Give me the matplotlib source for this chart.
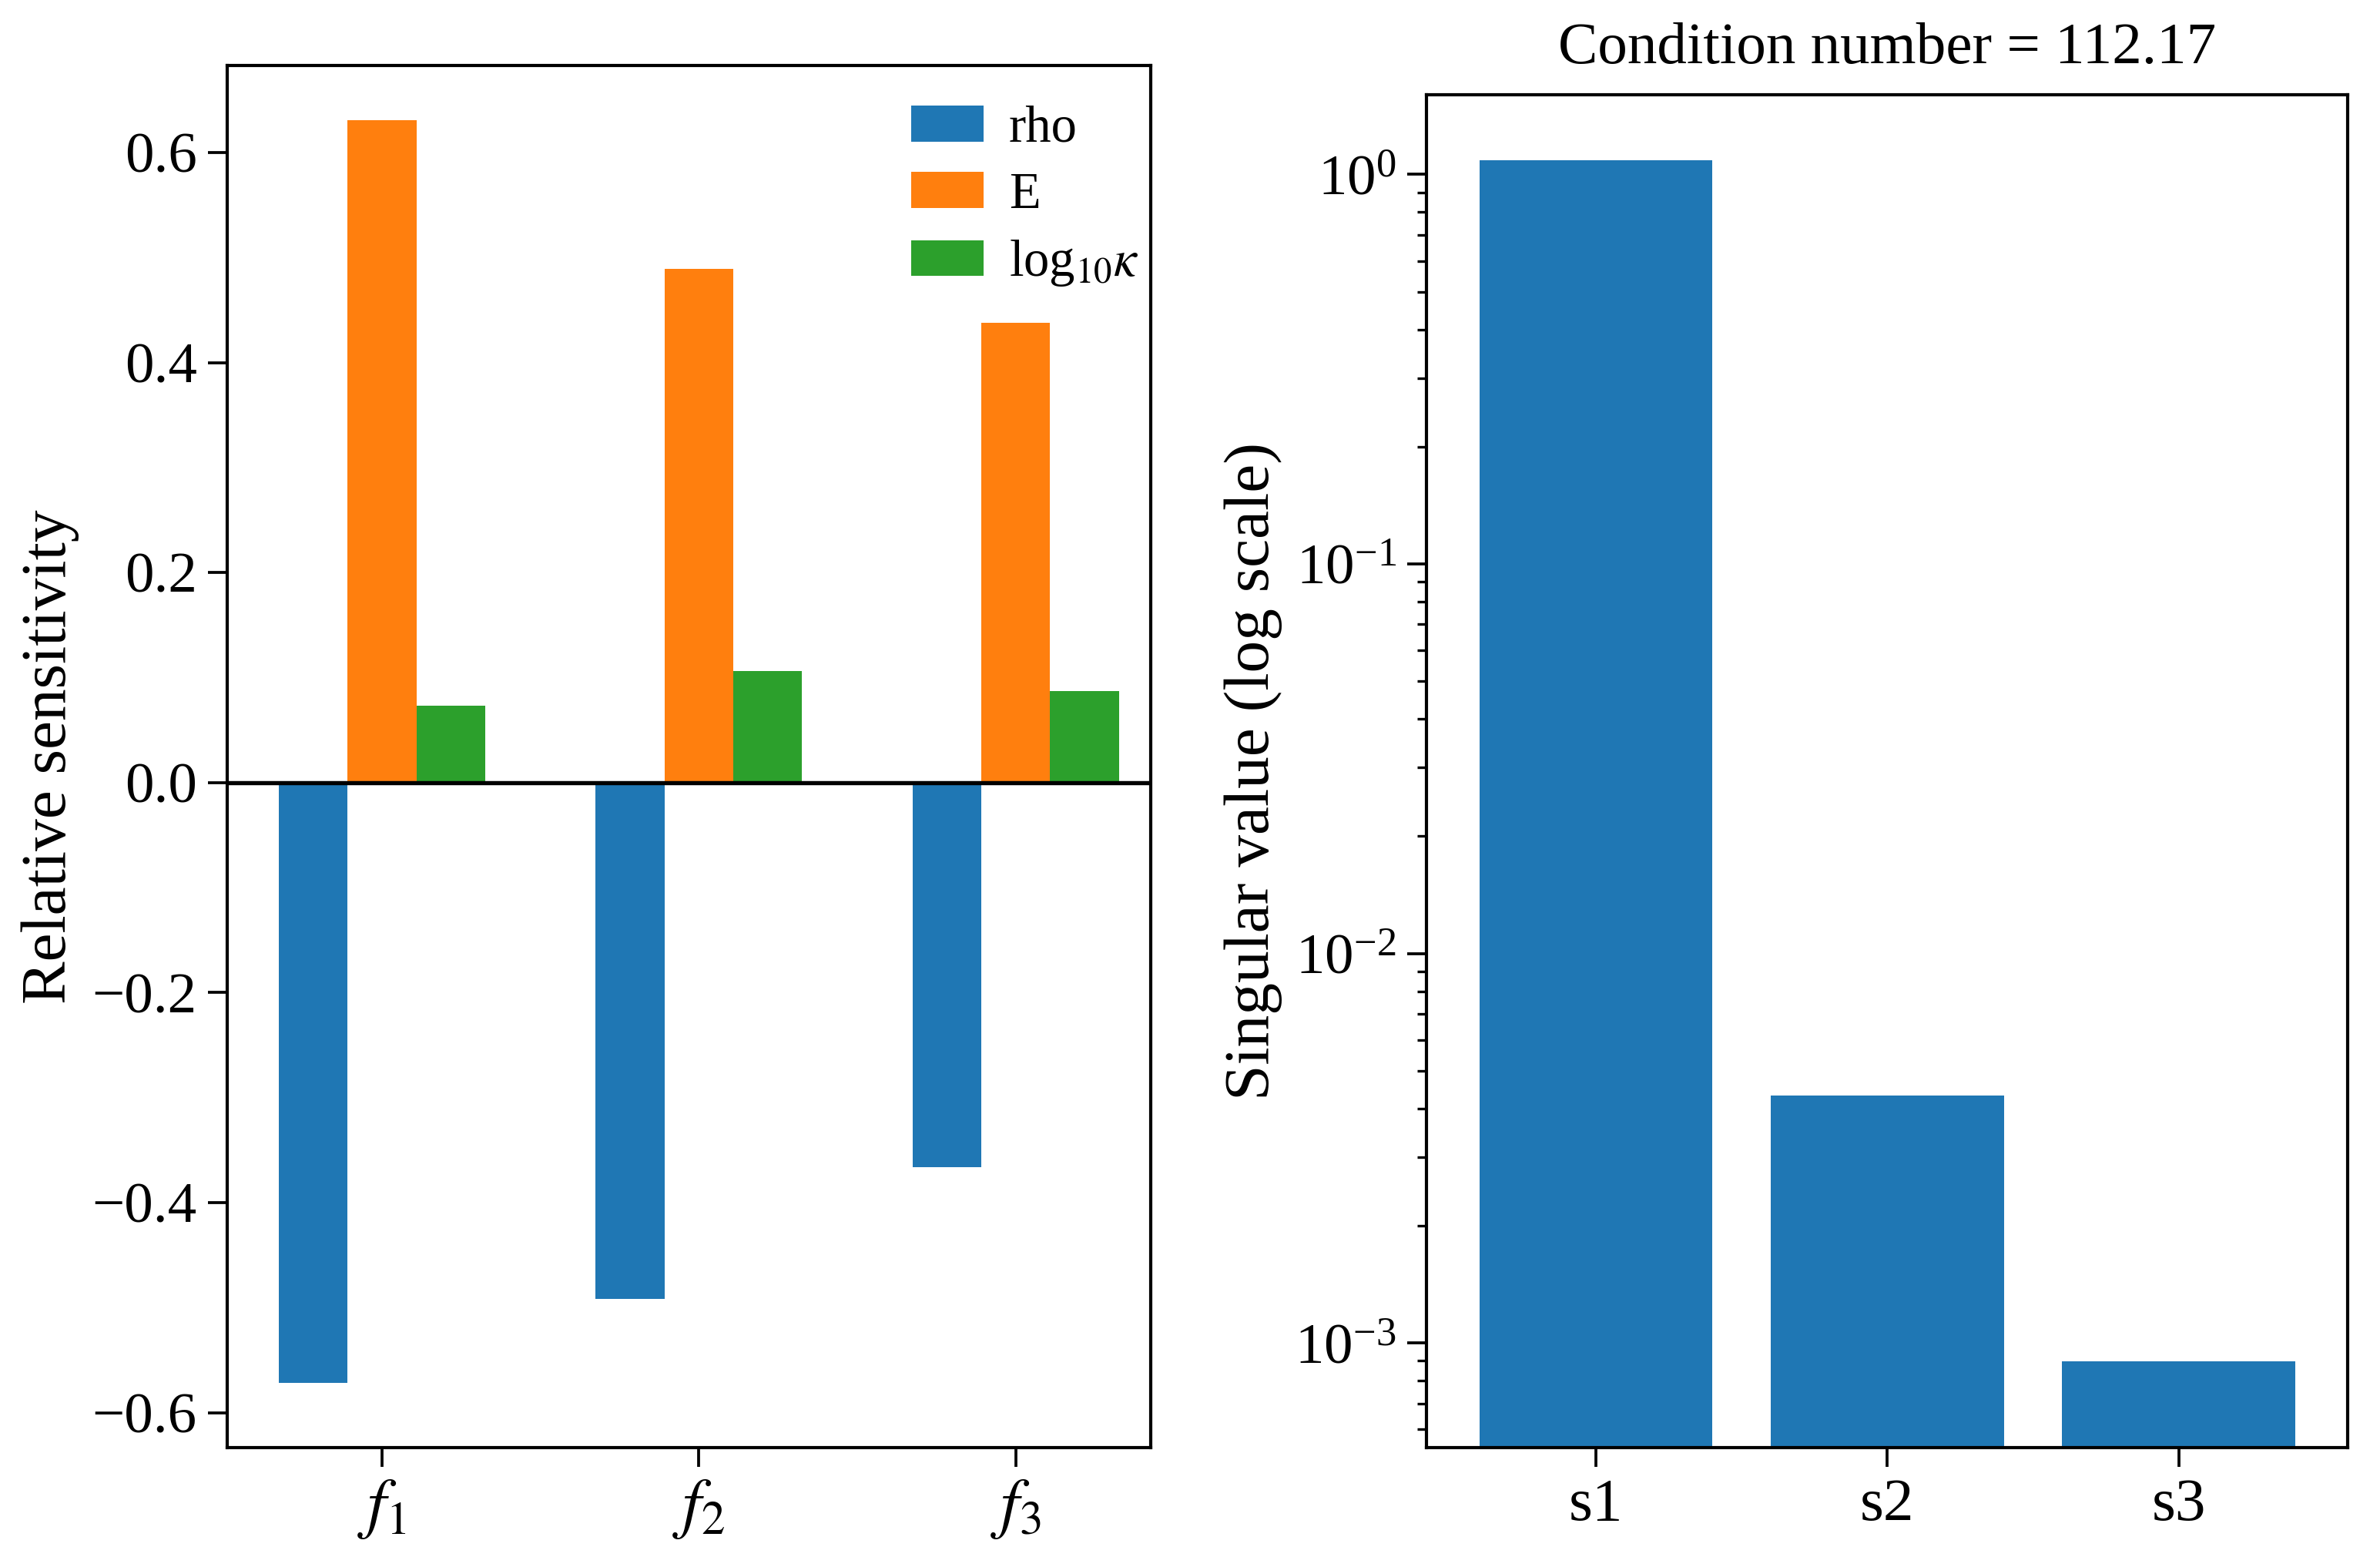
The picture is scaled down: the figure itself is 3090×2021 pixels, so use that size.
import matplotlib
matplotlib.use("Agg")
import matplotlib.pyplot as plt
import numpy as np

plt.rcParams['font.family'] = ['Liberation Serif', 'DejaVu Serif']
plt.rcParams['mathtext.fontset'] = 'stix'
plt.rcParams['axes.linewidth'] = 1.0

# data
features = [r'$f_1$', r'$f_2$', r'$f_3$']
rho_sens = [-0.572, -0.492, -0.366]
E_sens = [0.631, 0.489, 0.438]
kappa_sens = [0.073, 0.106, 0.087]
series_names = ['rho', 'E', r'log$_{10}\kappa$']

sv_labels = ['s1', 's2', 's3']
sv_values = [1.085, 0.00432, 0.000897]
cond_number = 112.17

fs = 18

fig = plt.figure(figsize=[10.3, 6.737], dpi=300)
ax1 = fig.add_axes([0.0955, 0.0705, 0.388, 0.8875])
ax2 = fig.add_axes([0.5995, 0.0705, 0.387, 0.8685])

x = np.arange(len(features))
w = 0.217
ax1.bar(x - w, rho_sens, w, color='tab:blue', label=series_names[0])
ax1.bar(x, E_sens, w, color='tab:orange', label=series_names[1])
ax1.bar(x + w, kappa_sens, w, color='tab:green', label=series_names[2])
ax1.axhline(0, color='black', lw=1.3)
ax1.set_xticks(x)
ax1.set_xticklabels(features, fontsize=fs + 3)
ax1.set_xlim(-0.488, 2.426)
ax1.set_yticks([-0.6, -0.4, -0.2, 0.0, 0.2, 0.4, 0.6])
ax1.set_ylim(-0.633, 0.683)
ax1.tick_params(axis='y', labelsize=fs)
ax1.tick_params(length=6, width=0.9)
ax1.set_ylabel('Relative sensitivity', fontsize=20)
ax1.legend(loc='upper left', bbox_to_anchor=(0.7185, 0.986), frameon=False,
           fontsize=16, handlelength=1.4, handletextpad=0.5,
           labelspacing=0.38, borderaxespad=0)

xs = np.arange(len(sv_labels))
ax2.bar(xs, sv_values, 0.8, color='tab:blue')
ax2.set_yscale('log')
ax2.set_ylim(5.4e-4, 1.6)
ax2.set_xlim(-0.58, 2.58)
ax2.set_xticks(xs)
ax2.set_xticklabels(sv_labels, fontsize=fs + 1)
ax2.tick_params(axis='y', labelsize=fs)
ax2.tick_params(length=6, width=0.9)
ax2.tick_params(which='minor', length=3, width=0.8)
ax2.set_ylabel('Singular value (log scale)', fontsize=20)
ax2.set_title('Condition number = %.2f' % cond_number, fontsize=18.5, pad=10)

plt.savefig('out.png')
